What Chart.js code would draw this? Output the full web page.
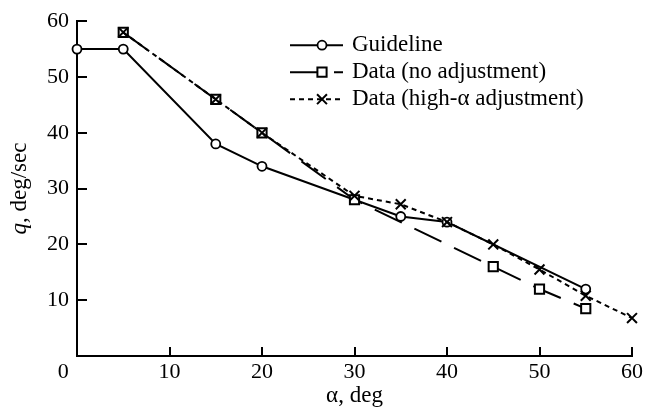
<!DOCTYPE html>
<html>
<head>
<meta charset="utf-8">
<script src="https://cdn.jsdelivr.net/npm/chart.js@4/dist/chart.umd.min.js"></script>
<style>
  html, body { margin: 0; padding: 0; background: #fff; }
  #wrap { width: 647px; height: 410px; }
</style>
</head>
<body>
<div id="wrap"><canvas id="c" width="647" height="410"></canvas></div>
<script>
// ---- data ----
const alphaGuide = [0, 5, 15, 20, 35, 40, 55];
const qGuide     = [55, 55, 38, 34, 25, 24, 12];

const alphaNoAdj = [5, 15, 20, 30, 45, 50, 55];
const qNoAdj     = [58, 46, 40, 28, 16, 12, 8.5];

const alphaHigh  = [5, 15, 20, 30, 35, 40, 45, 50, 55, 60];
const qHigh      = [58, 46, 40, 28.7, 27.2, 24, 20, 15.5, 10.8, 6.8];

const seriesLabels = ['Guideline', 'Data (no adjustment)', 'Data (high-\u03B1 adjustment)'];
const xTickValues = [0, 10, 20, 30, 40, 50, 60];
const yTickValues = [10, 20, 30, 40, 50, 60];
const xTitle = '\u03B1, deg';
const yTitleItalic = 'q';
const yTitleRest = ', deg/sec';

// ---- styling ----
const FONT = '"Liberation Serif"';
const BLACK = '#000';
Chart.defaults.font.family = FONT;
Chart.defaults.color = BLACK;

function pts(xs, ys) { return xs.map((x, i) => ({ x: x, y: ys[i] })); }

function drawMarker(ctx, style, r, bw, x, y) {
  ctx.save();
  ctx.setLineDash([]);
  ctx.lineWidth = bw;
  ctx.strokeStyle = BLACK;
  ctx.fillStyle = '#fff';
  ctx.beginPath();
  if (style === 'circle') {
    ctx.arc(x, y, r, 0, Math.PI * 2);
    ctx.fill(); ctx.stroke();
  } else if (style === 'rect') {
    const s = Math.SQRT1_2 * r;
    ctx.rect(x - s, y - s, 2 * s, 2 * s);
    ctx.fill(); ctx.stroke();
  } else if (style === 'crossRot') {
    const s = Math.SQRT1_2 * r;
    ctx.moveTo(x - s, y - s); ctx.lineTo(x + s, y + s);
    ctx.moveTo(x + s, y - s); ctx.lineTo(x - s, y + s);
    ctx.stroke();
  }
  ctx.restore();
}

const innerTicks = {
  id: 'innerTicks',
  afterDraw(chart) {
    const ctx = chart.ctx;
    const xs = chart.scales.x, ys = chart.scales.y;
    const ca = chart.chartArea;
    ctx.save();
    ctx.strokeStyle = BLACK;
    ctx.lineWidth = 2;
    ctx.setLineDash([]);
    xs.ticks.forEach(t => {
      const px = Math.round(xs.getPixelForValue(t.value));
      ctx.beginPath(); ctx.moveTo(px, ca.bottom); ctx.lineTo(px, ca.bottom - 9); ctx.stroke();
    });
    [0].concat(ys.ticks.map(t => t.value)).forEach(v => {
      const py = Math.round(ys.getPixelForValue(v));
      ctx.beginPath(); ctx.moveTo(ca.left, py); ctx.lineTo(ca.left + 10, py); ctx.stroke();
    });
    ctx.restore();
  }
};

const yTitlePlugin = {
  id: 'yTitle',
  afterDraw(chart) {
    const ctx = chart.ctx, ca = chart.chartArea;
    const cy = (ca.top + ca.bottom) / 2;
    ctx.save();
    ctx.translate(20, cy);
    ctx.rotate(-Math.PI / 2);
    ctx.fillStyle = BLACK;
    ctx.textBaseline = 'middle';
    ctx.textAlign = 'left';
    const fI = 'italic 23px ' + FONT, fN = '23px ' + FONT;
    ctx.font = fI; const w1 = ctx.measureText(yTitleItalic).width;
    ctx.font = fN; const w2 = ctx.measureText(yTitleRest).width;
    const x0 = -(w1 + w2) / 2;
    ctx.font = fI; ctx.fillText(yTitleItalic, x0, 0);
    ctx.font = fN; ctx.fillText(yTitleRest, x0 + w1, 0);
    ctx.restore();
  }
};

const legendPlugin = {
  id: 'boxLegend',
  afterDraw(chart) {
    const ctx = chart.ctx, ca = chart.chartArea;
    const x0 = ca.right - 342;
    const y0 = ca.top + 24;
    const rowH = 27;
    chart.data.datasets.forEach((ds, i) => {
      const y = y0 + i * rowH;
      ctx.save();
      ctx.strokeStyle = ds.borderColor;
      ctx.lineWidth = ds.borderWidth;
      ctx.setLineDash(ds.borderDash || []);
      ctx.beginPath(); ctx.moveTo(x0, y); ctx.lineTo(x0 + 53, y); ctx.stroke();
      ctx.restore();
      drawMarker(ctx, ds.pointStyle, ds.pointRadius, ds.pointBorderWidth, x0 + 32, y);
      ctx.save();
      ctx.fillStyle = BLACK;
      ctx.font = '23px ' + FONT;
      ctx.textBaseline = 'middle';
      ctx.textAlign = 'left';
      ctx.fillText(ds.label, x0 + 62, y);
      ctx.restore();
    });
  }
};

const common = { borderColor: BLACK, borderWidth: 2, pointBorderColor: BLACK, pointBackgroundColor: '#fff',
                 showLine: true, fill: false, tension: 0, clip: false };

new Chart(document.getElementById('c'), {
  type: 'scatter',
  data: {
    datasets: [
      Object.assign({}, common, { label: seriesLabels[0], data: pts(alphaGuide, qGuide), borderDash: [],
        pointStyle: 'circle', pointRadius: 4.5, pointBorderWidth: 1.8, order: 2 }),
      Object.assign({}, common, { label: seriesLabels[1], data: pts(alphaNoAdj, qNoAdj), borderDash: [30, 14],
        pointStyle: 'rect', pointRadius: 6.5, pointBorderWidth: 2, order: 1 }),
      Object.assign({}, common, { label: seriesLabels[2], data: pts(alphaHigh, qHigh), borderDash: [5, 4],
        pointStyle: 'crossRot', pointRadius: 7, pointBorderWidth: 2, order: 0 })
    ]
  },
  options: {
    responsive: false,
    devicePixelRatio: 1,
    animation: false,
    layout: { padding: { top: 16, right: 15, left: 0, bottom: 0 } },
    plugins: { legend: { display: false }, tooltip: { enabled: false } },
    scales: {
      x: {
        type: 'linear', min: 0, max: 60,
        afterBuildTicks: s => { s.ticks = xTickValues.map(v => ({ value: v })); },
        afterFit: s => { s.height = 54; },
        grid: { display: false, drawTicks: false },
        border: { display: true, color: BLACK, width: 2 },
        ticks: {
          color: BLACK, font: { family: FONT, size: 22 }, padding: 3, maxRotation: 0, autoSkip: false,
          callback: v => v === 0 ? '0\u2002\u2002 ' : String(v)
        },
        title: { display: true, text: xTitle, color: BLACK, font: { family: FONT, size: 23 }, padding: { top: 0, bottom: 0 } }
      },
      y: {
        type: 'linear', min: 0, max: 60,
        afterBuildTicks: s => { s.ticks = yTickValues.map(v => ({ value: v })); },
        afterFit: s => { s.width = 77; },
        grid: { display: false, drawTicks: false },
        border: { display: true, color: BLACK, width: 2 },
        ticks: { color: BLACK, font: { family: FONT, size: 22 }, padding: 8, autoSkip: false, callback: v => String(v) },
        title: { display: false }
      }
    }
  },
  plugins: [innerTicks, yTitlePlugin, legendPlugin]
});
</script>
</body>
</html>
